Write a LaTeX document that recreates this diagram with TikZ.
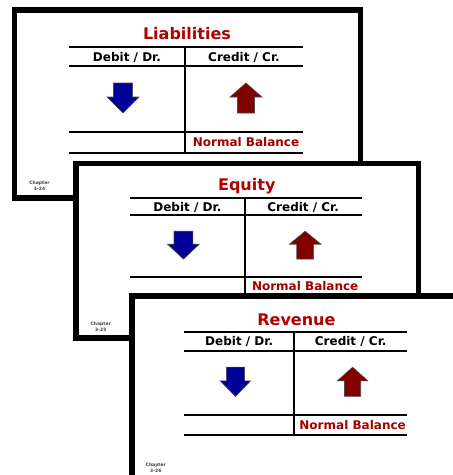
\documentclass[tikz,border=0pt]{standalone}
\usepackage{fontspec}
\setmainfont{DejaVu Sans}
\usetikzlibrary{calc}
\definecolor{titlered}{RGB}{176,0,0}
\definecolor{nbred}{RGB}{165,0,0}
\definecolor{upred}{RGB}{128,0,0}
\definecolor{downblue}{RGB}{0,0,153}
\tikzset{
    pics/acct/.style n args = {2}{
        code = {%
        \coordinate (-nw) at (0,0);
        \coordinate (-se) at (346,188);
        \coordinate (-tl) at (54.5,37);
        \coordinate (-tr) at (288.5,37);
        \coordinate (-tm) at (170.5,37);
        \coordinate (-bm) at (170.5,143);
        \filldraw[fill=white,line width=5.5pt](-nw)rectangle(-se);
        \node[text=titlered,font=\fontsize{16}{18}\selectfont\bfseries] (-title) at (172.5,24) {#1};
        \draw[line width=2pt](-tl)--(-tr);
        \draw[line width=2pt]($(-tl)+(0,19)$)--($(-tr)+(0,19)$);
        \draw[line width=2pt]($(-tl)+(0,85)$)--($(-tr)+(0,85)$);
        \draw[line width=2pt]($(-tl)+(0,106)$)--($(-tr)+(0,106)$);
        \draw[line width=2pt](-tm)--(-bm);
        \node[font=\fontsize{12}{14}\selectfont\bfseries] (-dr) at (112.5,47) {Debit / Dr.};
        \node[font=\fontsize{12}{14}\selectfont\bfseries] (-cr) at (229.5,47) {Credit / Cr.};
        \node[text=nbred,font=\fontsize{12}{14}\selectfont\bfseries] (-nb) at (231.5,132.5) {Normal Balance};
        \filldraw[fill=downblue,draw=black!70,line width=.6pt,shift={(108.5,73)}]
            (-9.5,0)--(9.5,0)--(9.5,14)--(16,14)--(0,30)--(-16,14)--(-9.5,14)--cycle;
        \filldraw[fill=upred,draw=black!70,line width=.6pt,shift={(231.5,73)}]
            (0,0)--(16,14)--(8.5,14)--(8.5,30)--(-8.5,30)--(-8.5,14)--(-16,14)--cycle;
        \node[text=black!75,align=center,font=\fontsize{4.5}{5.5}\selectfont\bfseries] (-chap) at (25,176) {Chapter\\#2};
        }
    },
}
\begin{document}
\begin{tikzpicture}[x=1pt,y=-1pt]
\useasboundingbox (0,0) rectangle (453,475);

\pic (s1) at (14.5,10) {acct={Liabilities}{3-24}};
\pic[xscale=0.99,yscale=0.928] (s2) at (76,163.5) {acct={Equity}{3-25}};
\pic[xscale=0.953,yscale=0.975] (s3) at (132,296) {acct={Revenue}{3-26}};

\end{tikzpicture}
\end{document}
